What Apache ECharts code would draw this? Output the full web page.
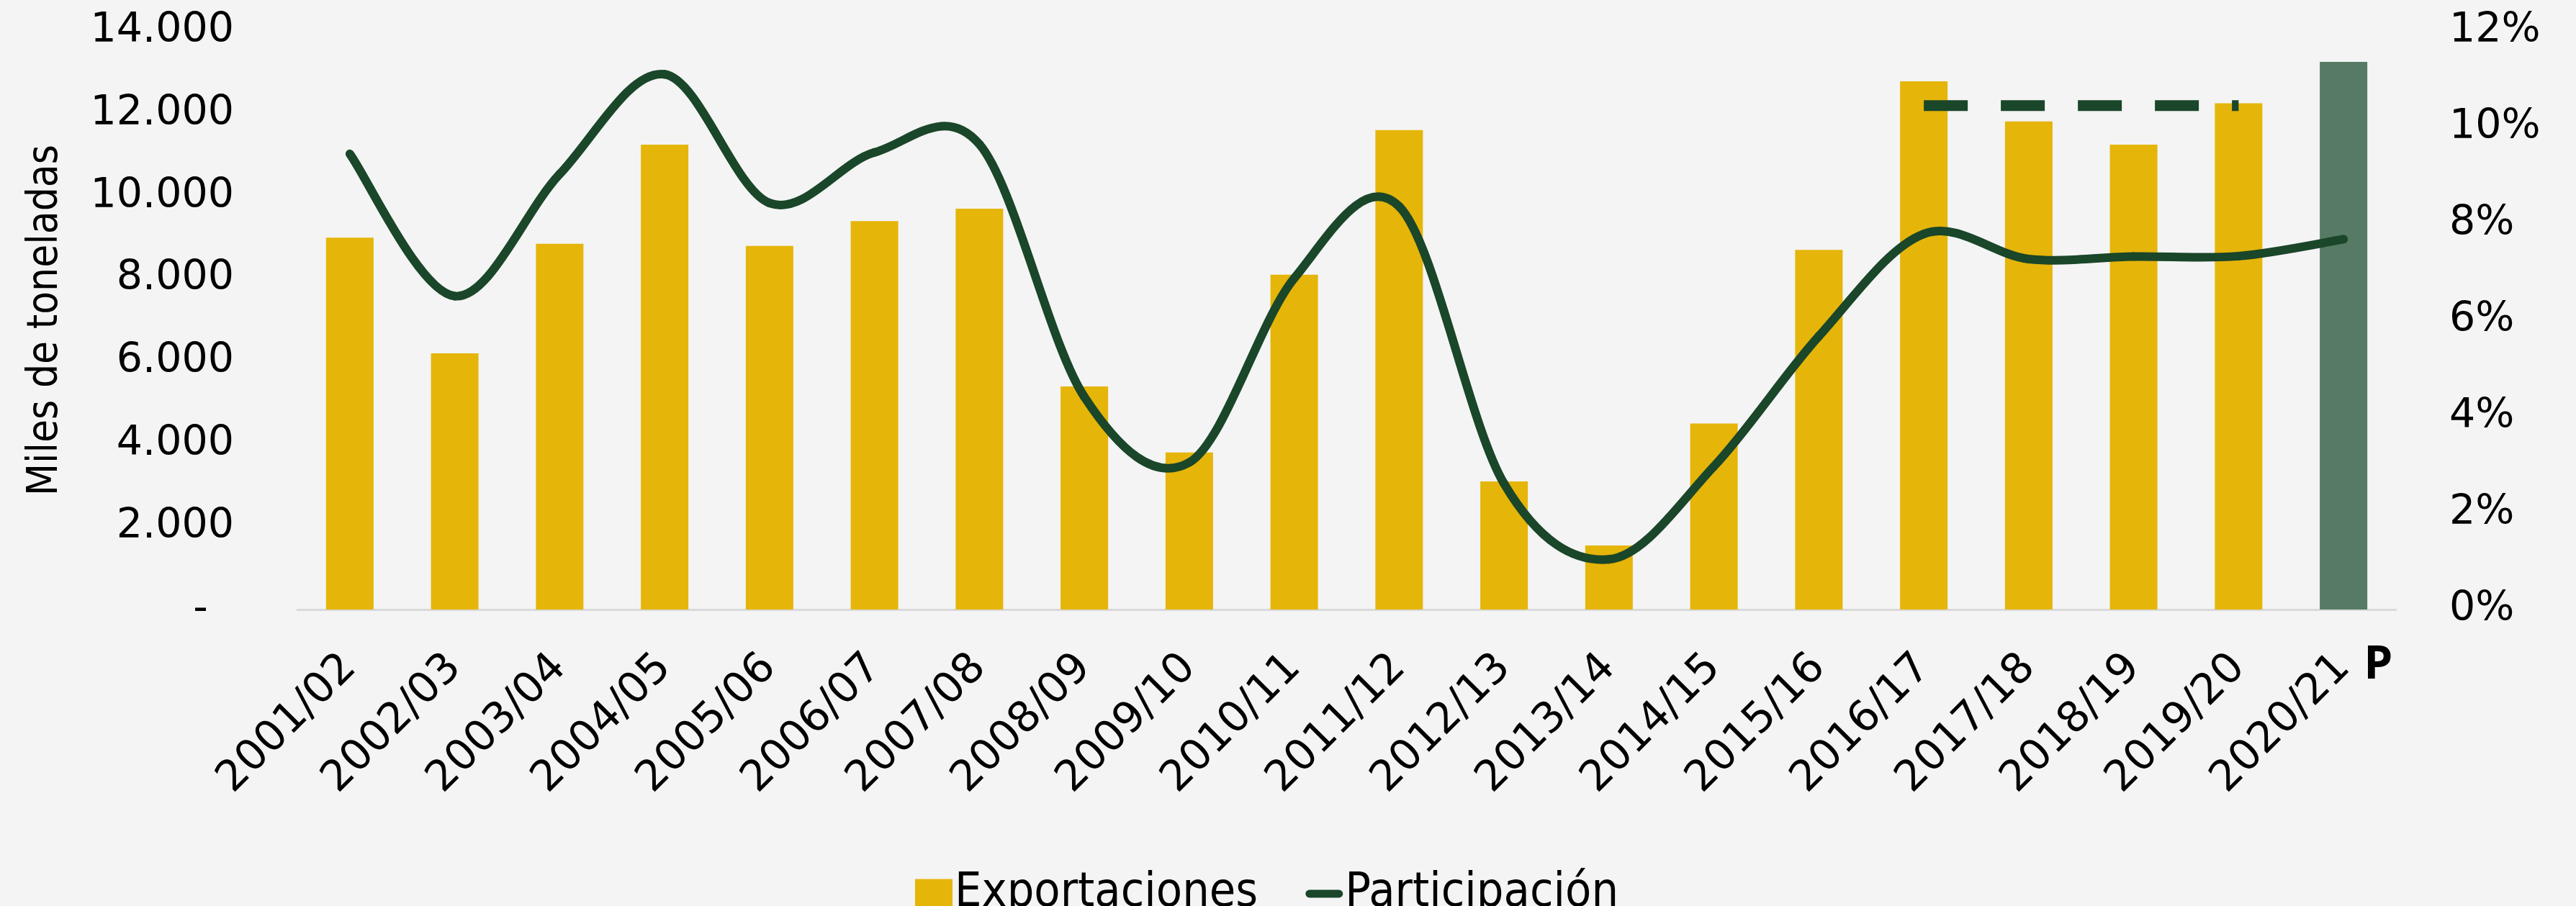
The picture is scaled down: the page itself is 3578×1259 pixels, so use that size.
<!DOCTYPE html>
<html>
<head>
<meta charset="utf-8">
<script src="https://cdn.jsdelivr.net/npm/echarts@6/dist/echarts.min.js"></script>
<style>
  html, body { margin: 0; padding: 0; background: #f4f4f4; }
  #chart { width: 3578px; height: 1259px; }
</style>
</head>
<body>
<div id="chart"></div>
<script>
const categories = ['2001/02', '2002/03', '2003/04', '2004/05', '2005/06', '2006/07', '2007/08',
  '2008/09', '2009/10', '2010/11', '2011/12', '2012/13', '2013/14', '2014/15', '2015/16',
  '2016/17', '2017/18', '2018/19', '2019/20', '2020/21'];

// miles de toneladas
const exportaciones = [9000, 6200, 8850, 11250, 8800, 9400, 9700, 5400, 3800, 8100, 11600,
  3100, 1550, 4500, 8700, 12780, 11810, 11250, 12250, 13250];

// participación (fracción)
const participacion = [0.0945, 0.065, 0.0903, 0.111, 0.0843, 0.0948, 0.0965, 0.0441, 0.0305,
  0.0687, 0.0836, 0.0261, 0.0104, 0.0297, 0.0567, 0.0779, 0.0727, 0.0732, 0.0733, 0.0768];

// promedio 2016/17 - 2019/20
const promedio = [null, null, null, null, null, null, null, null, null, null, null, null,
  null, null, null, 0.1045, 0.1045, 0.1045, 0.1045, null];

const leftTicks = { min: 0, max: 14000, interval: 2000 };
const rightTicks = { min: 0, max: 0.12, interval: 0.02 };

const tickFont = 'DejaVu Sans, Verdana, sans-serif';
const narrowFont = '"DejaVu Sans Condensed", "Liberation Sans Narrow", "Noto Sans", sans-serif';
const yellow = '#e5b50a';
const greyGreen = '#567a64';
const darkGreen = '#1a4629';

// Excel-like smoothed line: one bezier segment per point, Catmull-Rom style control points
function renderSmoothSegment(params, api) {
  const i = params.dataIndex;
  const n = participacion.length;
  if (i >= n - 1) return null;
  const pt = k => api.coord([Math.max(0, Math.min(n - 1, k)), participacion[Math.max(0, Math.min(n - 1, k))]]);
  const p0 = pt(i - 1), p1 = pt(i), p2 = pt(i + 1), p3 = pt(i + 2);
  const t = 1 / 6;
  return {
    type: 'bezierCurve',
    shape: {
      x1: p1[0], y1: p1[1],
      x2: p2[0], y2: p2[1],
      cpx1: p1[0] + (p2[0] - p0[0]) * t, cpy1: p1[1] + (p2[1] - p0[1]) * t,
      cpx2: p2[0] - (p3[0] - p1[0]) * t, cpy2: p2[1] - (p3[1] - p1[1]) * t
    },
    style: { stroke: darkGreen, lineWidth: 12, lineCap: 'round', fill: null }
  };
}

const chart = echarts.init(document.getElementById('chart'));

const option = {
  backgroundColor: '#f4f4f4',
  animation: false,
  grid: { left: 413, right: 250, top: 43, bottom: 412 },
  legend: {
    left: 1266,
    top: 1204,
    itemWidth: 52,
    itemHeight: 41,
    itemGap: 66,
    textStyle: { fontFamily: narrowFont, fontSize: 66, color: '#000', padding: [0, 0, 0, -2] },
    data: [
      { name: 'Exportaciones', icon: 'rect' },
      { name: 'Participación', icon: 'path://M6.5,0 L55.5,0 A6.5,6.5 0 0 1 55.5,13 L6.5,13 A6.5,6.5 0 0 1 6.5,0 Z' }
    ]
  },
  xAxis: {
    type: 'category',
    data: categories,
    axisLine: { lineStyle: { color: '#d9d9d9', width: 3 } },
    axisTick: { show: false },
    axisLabel: {
      interval: 0,
      rotate: 45,
      margin: 72,
      fontFamily: tickFont,
      fontSize: 59,
      color: '#000'
    }
  },
  yAxis: [
    {
      type: 'value',
      ...leftTicks,
      name: 'Miles de toneladas',
      nameLocation: 'middle',
      nameRotate: 90,
      nameGap: 320,
      nameTextStyle: { fontFamily: narrowFont, fontSize: 58, color: '#000' },
      splitLine: { show: false },
      axisLine: { show: false },
      axisTick: { show: false },
      axisLabel: {
        margin: 88,
        fontFamily: tickFont,
        fontSize: 57,
        color: '#000',
        formatter: v => v === 0 ? '-  ' : String(v).replace(/\B(?=(\d{3})+(?!\d))/g, '.')
      }
    },
    {
      type: 'value',
      ...rightTicks,
      splitLine: { show: false },
      axisLine: { show: false },
      axisTick: { show: false },
      axisLabel: {
        margin: 74,
        fontFamily: tickFont,
        fontSize: 57,
        color: '#000',
        formatter: v => Math.round(v * 100) + '%'
      }
    }
  ],
  series: [
    {
      name: 'Exportaciones',
      type: 'bar',
      barWidth: 66,
      itemStyle: { color: yellow },
      data: exportaciones.map((v, i) =>
        i === exportaciones.length - 1 ? { value: v, itemStyle: { color: greyGreen } } : v)
    },
    {
      name: 'Participación',
      type: 'custom',
      yAxisIndex: 1,
      itemStyle: { color: darkGreen },
      renderItem: renderSmoothSegment,
      encode: { x: 0, y: 1 },
      z: 5,
      data: participacion.map((v, i) => [i, v])
    },
    {
      name: 'Promedio',
      type: 'line',
      yAxisIndex: 1,
      symbol: 'none',
      lineStyle: { color: darkGreen, width: 15, type: [61, 46], cap: 'butt' },
      z: 4,
      data: promedio
    }
  ]
};

chart.setOption(option);

// "P" (preliminar) junto a la última etiqueta
const lastX = chart.convertToPixel({ xAxisIndex: 0 }, categories[categories.length - 1]);
chart.setOption({
  graphic: [{
    type: 'text',
    left: lastX + 28,
    top: 893,
    style: { text: 'P', fontFamily: '"Open Sans", "Noto Sans", sans-serif', fontWeight: 'bold', fontSize: 64, fill: '#000' }
  }]
});
</script>
</body>
</html>
